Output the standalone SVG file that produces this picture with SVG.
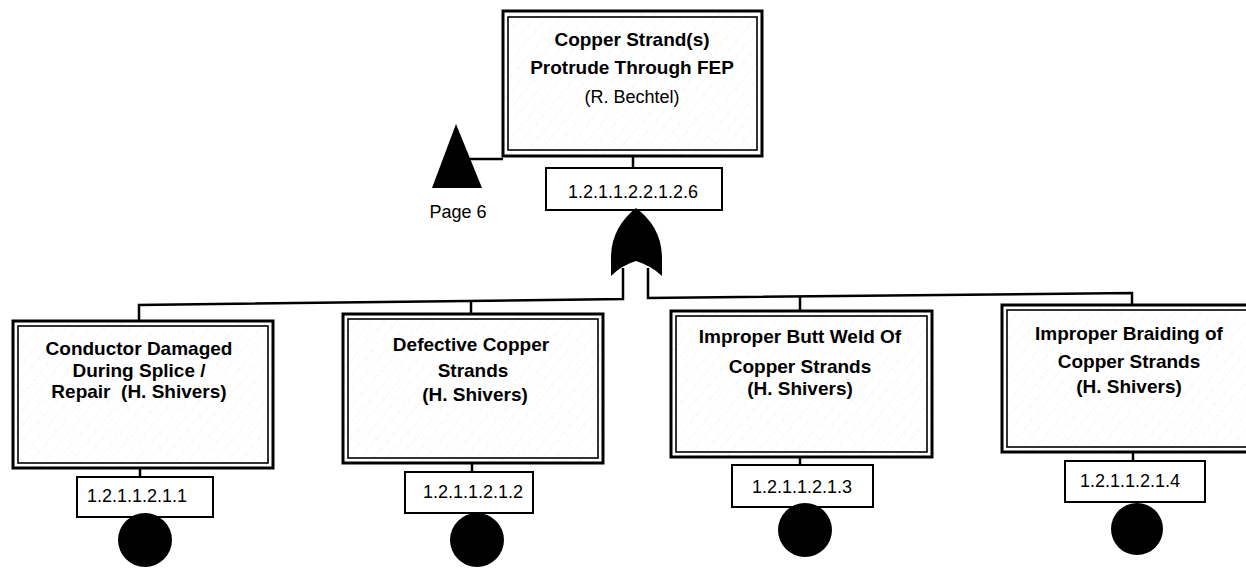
<svg xmlns="http://www.w3.org/2000/svg" width="1246" height="570" viewBox="0 0 1246 570">
  <style>
    .outer { fill: url(#hatch); stroke: #000; stroke-width: 3; }
    .inner { fill: none; stroke: #000; stroke-width: 1.6; }
    .idbox { fill: #fff; stroke: #000; stroke-width: 2; }
    .title { font-family: "Liberation Sans", Arial, sans-serif; font-size: 19px; font-weight: bold; text-anchor: middle; fill: #000; }
    .name { font-family: "Liberation Sans", Arial, sans-serif; font-size: 18px; text-anchor: middle; fill: #000; }
    .id { font-family: "Liberation Sans", Arial, sans-serif; font-size: 18px; text-anchor: middle; fill: #000; }
    .wire { fill: none; stroke: #000; stroke-width: 2.5; }
    .basic { fill: #000; }
  </style>
  <defs>
    <!-- faint diagonal shading used inside event boxes -->
    <pattern id="hatch" width="10" height="10" patternUnits="userSpaceOnUse" patternTransform="rotate(40)">
      <rect width="10" height="10" fill="#fff"/>
      <line x1="0" y1="0" x2="0" y2="10" stroke="#c8c8c8" stroke-width="0.8" stroke-dasharray="1 3"/>
    </pattern>
  </defs>

  <rect width="1246" height="570" fill="#fff"/>

  <!-- connectors -->
  <g id="connectors">
    <!-- transfer triangle to top event -->
    <line class="wire" x1="470" y1="159" x2="503" y2="159"/>
    <!-- top event to its id box -->
    <line class="wire" x1="633" y1="156" x2="633" y2="168"/>
    <!-- OR gate legs and bus -->
    <polyline class="wire" points="139,321 139,305 623,299 623,268"/>
    <polyline class="wire" points="648,268 648,298 1132,293 1132,305"/>
    <line class="wire" x1="471" y1="301" x2="471" y2="314"/>
    <line class="wire" x1="800" y1="297" x2="800" y2="311"/>
    <!-- child events to id boxes -->
    <line class="wire" x1="140" y1="468" x2="140" y2="477"/>
    <line class="wire" x1="472" y1="463" x2="472" y2="472"/>
    <line class="wire" x1="800" y1="457" x2="800" y2="465"/>
    <line class="wire" x1="1133" y1="452" x2="1133" y2="461"/>
  </g>

  <!-- transfer symbol -->
  <g id="transfer">
    <polygon class="basic" points="456,124 432,188 482,188"/>
    <text class="name" x="458" y="218">Page 6</text>
  </g>

  <!-- top event -->
  <g id="top-event">
    <rect class="outer" x="503" y="11" width="259" height="145"/>
    <rect class="inner" x="508" y="17" width="249" height="133"/>
    <text class="title" x="632" y="46">Copper Strand(s)</text>
    <text class="title" x="632" y="74">Protrude Through FEP</text>
    <text class="name" x="632" y="103">(R. Bechtel)</text>
    <rect class="idbox" x="546" y="168" width="176" height="42"/>
    <text class="id" x="633" y="198">1.2.1.1.2.2.1.2.6</text>
  </g>

  <!-- OR gate -->
  <g id="or-gate">
    <path class="basic" d="M636,208 C652,220 662,236 662,258 L662,276 Q650,265 636,261 Q622,265 611,276 L611,258 C611,236 621,220 636,208 Z"/>
  </g>

  <!-- child event 1 -->
  <g id="event-1">
    <rect class="outer" x="13" y="321" width="260" height="147"/>
    <rect class="inner" x="18" y="326" width="250" height="137"/>
    <text class="title" x="139" y="355">Conductor Damaged</text>
    <text class="title" x="139" y="377">During Splice /</text>
    <text class="title" x="139" y="398" xml:space="preserve">Repair  (H. Shivers)</text>
    <rect class="idbox" x="77" y="477" width="136" height="40"/>
    <text class="id" x="137" y="502">1.2.1.1.2.1.1</text>
    <circle class="basic" cx="145" cy="540" r="27"/>
  </g>

  <!-- child event 2 -->
  <g id="event-2">
    <rect class="outer" x="343" y="314" width="260" height="149"/>
    <rect class="inner" x="348" y="319" width="250" height="139"/>
    <text class="title" x="471" y="351">Defective Copper</text>
    <text class="title" x="473" y="377">Strands</text>
    <text class="title" x="475" y="401">(H. Shivers)</text>
    <rect class="idbox" x="405" y="472" width="128" height="41"/>
    <text class="id" x="473" y="498">1.2.1.1.2.1.2</text>
    <circle class="basic" cx="477" cy="540" r="27"/>
  </g>

  <!-- child event 3 -->
  <g id="event-3">
    <rect class="outer" x="671" y="311" width="261" height="146"/>
    <rect class="inner" x="676" y="316" width="251" height="136"/>
    <text class="title" x="800" y="343">Improper Butt Weld Of</text>
    <text class="title" x="800" y="373">Copper Strands</text>
    <text class="title" x="800" y="395">(H. Shivers)</text>
    <rect class="idbox" x="732" y="465" width="141" height="42"/>
    <text class="id" x="802" y="493">1.2.1.1.2.1.3</text>
    <circle class="basic" cx="805" cy="530" r="27"/>
  </g>

  <!-- child event 4 -->
  <g id="event-4">
    <rect class="outer" x="1002" y="305" width="260" height="147"/>
    <rect class="inner" x="1007" y="310" width="250" height="137"/>
    <text class="title" x="1129" y="340">Improper Braiding of</text>
    <text class="title" x="1129" y="368">Copper Strands</text>
    <text class="title" x="1129" y="393">(H. Shivers)</text>
    <rect class="idbox" x="1065" y="461" width="140" height="41"/>
    <text class="id" x="1130" y="487">1.2.1.1.2.1.4</text>
    <circle class="basic" cx="1137" cy="529" r="26"/>
  </g>
</svg>
